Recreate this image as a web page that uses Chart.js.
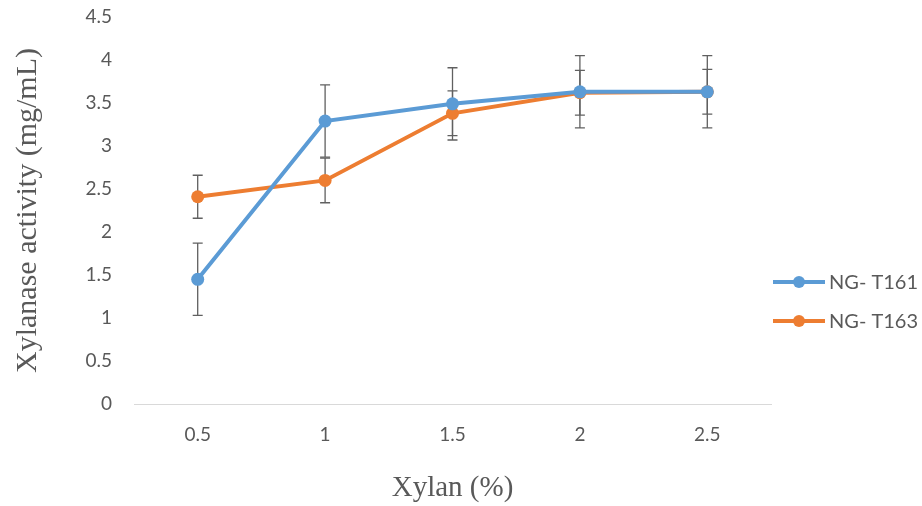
<!DOCTYPE html>
<html>
<head>
<meta charset="utf-8">
<script src="https://cdn.jsdelivr.net/npm/chart.js@4.4.1/dist/chart.umd.min.js"></script>
<style>
    html, body { margin: 0; padding: 0; background: #ffffff; }
    #wrap { position: relative; width: 922px; height: 506px; }
</style>
</head>
<body>
<div id="wrap"><canvas id="mychart" width="922" height="506"></canvas></div>
<script>
// datos
var xylanLabels = ['0.5', '1', '1.5', '2', '2.5'];
var t161Values = [1.45, 3.29, 3.49, 3.63, 3.63];
var t163Values = [2.41, 2.60, 3.38, 3.62, 3.63];
var t161Errors = [0.42, 0.42, 0.42, 0.42, 0.42];
var t163Errors = [0.25, 0.26, 0.26, 0.26, 0.26];
var seriesNames = ['NG- T161', 'NG- T163'];

var BLUE = '#5B9BD5';
var ORANGE = '#ED7D31';
var GREY = '#595959';

// barras de error dibujadas con las escalas del grafico
var errorBars = {
    id: 'errorBars',
    beforeDatasetsDraw: function (chart) {
        var ctx = chart.ctx;
        var yScale = chart.scales.y;
        ctx.save();
        ctx.strokeStyle = '#606060';
        ctx.lineWidth = 1.3;
        chart.data.datasets.forEach(function (ds, i) {
            var meta = chart.getDatasetMeta(i);
            meta.data.forEach(function (pt, j) {
                var v = ds.data[j];
                var e = ds.errors[j];
                var yTop = yScale.getPixelForValue(v + e);
                var yBot = yScale.getPixelForValue(v - e);
                var x = pt.x;
                ctx.beginPath();
                ctx.moveTo(x, yTop);
                ctx.lineTo(x, yBot);
                ctx.moveTo(x - 5, yTop);
                ctx.lineTo(x + 5, yTop);
                ctx.moveTo(x - 5, yBot);
                ctx.lineTo(x + 5, yBot);
                ctx.stroke();
            });
        });
        ctx.restore();
    }
};

// leyenda a la derecha, como en Excel
var sideLegend = {
    id: 'sideLegend',
    afterDraw: function (chart) {
        var ctx = chart.ctx;
        ctx.save();
        ctx.font = '20px Lato';
        ctx.textBaseline = 'middle';
        ctx.textAlign = 'left';
        chart.data.datasets.forEach(function (ds, i) {
            var y = 282 + i * 39;
            ctx.strokeStyle = ds.borderColor;
            ctx.lineWidth = 4;
            ctx.beginPath();
            ctx.moveTo(773, y);
            ctx.lineTo(825, y);
            ctx.stroke();
            ctx.fillStyle = ds.borderColor;
            ctx.beginPath();
            ctx.arc(799, y, 6, 0, Math.PI * 2);
            ctx.fill();
            ctx.fillStyle = GREY;
            ctx.fillText(ds.label, 829, y + 1);
        });
        ctx.restore();
    }
};

var ctx = document.getElementById('mychart').getContext('2d');
var mychart = new Chart(ctx, {
    type: 'line',
    data: {
        labels: xylanLabels,
        datasets: [{
            label: seriesNames[0],
            data: t161Values,
            errors: t161Errors,
            borderColor: BLUE,
            backgroundColor: BLUE,
            borderWidth: 4,
            pointRadius: 6.5,
            pointBorderWidth: 0,
            tension: 0
        }, {
            label: seriesNames[1],
            data: t163Values,
            errors: t163Errors,
            borderColor: ORANGE,
            backgroundColor: ORANGE,
            borderWidth: 4,
            pointRadius: 6.5,
            pointBorderWidth: 0,
            tension: 0
        }]
    },
    options: {
        responsive: false,
        animation: false,
        layout: { padding: { top: 17, right: 151, left: 0, bottom: 0 } },
        plugins: {
            legend: { display: false },
            tooltip: { enabled: false }
        },
        scales: {
            x: {
                offset: true,
                grid: { display: false, drawTicks: false },
                border: { display: true, color: '#D9D9D9', width: 1 },
                ticks: { color: GREY, font: { family: 'Lato', size: 19 }, padding: 19 },
                title: {
                    display: true,
                    text: 'Xylan (%)',
                    color: GREY,
                    font: { family: 'Liberation Serif', size: 29 },
                    padding: { top: 2, bottom: 0 }
                },
                afterFit: function (scale) {
                    scale.height = 102;
                    scale.paddingLeft = 0;
                    scale.paddingRight = 0;
                }
            },
            y: {
                min: 0,
                max: 4.5,
                grid: { display: false, drawTicks: false },
                border: { display: false },
                ticks: {
                    stepSize: 0.5,
                    color: GREY,
                    font: { family: 'Lato', size: 19 },
                    padding: 22,
                    callback: function (value) { return String(value); }
                },
                title: {
                    display: true,
                    text: 'Xylanase activity (mg/mL)',
                    color: GREY,
                    font: { family: 'Liberation Serif', size: 30 },
                    padding: { top: 10, bottom: 0 }
                },
                afterFit: function (scale) {
                    scale.width = 134;
                    scale.paddingTop = 0;
                    scale.paddingBottom = 0;
                }
            }
        }
    },
    plugins: [errorBars, sideLegend]
});
</script>
</body>
</html>
